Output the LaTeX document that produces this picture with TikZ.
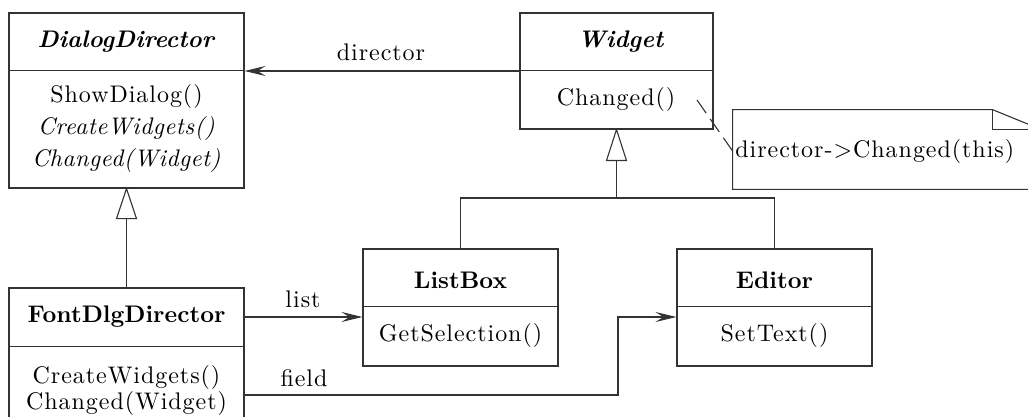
\documentclass[tikz,border=0pt]{standalone}
\usepackage{fontspec}
\setmainfont{lmroman10-regular.otf}[
  BoldFont=lmroman10-bold.otf,
  ItalicFont=lmroman10-italic.otf,
  BoldItalicFont=lmroman10-bolditalic.otf,
  UprightFeatures={LetterSpace=4},
  ItalicFeatures={LetterSpace=2}]
\usetikzlibrary{arrows.meta}
\tikzset{
  ln/.style={draw=black!80, line width=0.55pt},
  box/.style={ln, inner sep=0pt, fill=white},
  txt/.style={inner sep=0pt, font=\fontsize{12}{14}\selectfont},
  ttl/.style={txt, font=\fontsize{12}{14}\selectfont\bfseries},
  arr/.style={ln, -{Stealth[length=10.5pt,width=5pt,inset=4pt]}},
  inh/.style={ln, fill=white},
}
\begin{document}
\begin{tikzpicture}[x=0.5pt,y=-0.5pt]
\useasboundingbox (0,0) rectangle (1028,417);
\clip (0,0) rectangle (1028,417);

% class boxes
\node[box, minimum width=117.5pt, minimum height=87.5pt] (dd) at (126.5,100.5) {};
\node[box, minimum width=96.5pt, minimum height=58pt] (wd) at (616.5,71) {};
\node[box, minimum width=117.5pt, minimum height=71pt] (fd) at (126.5,359) {};
\node[box, minimum width=97.5pt, minimum height=58.5pt] (lb) at (460.5,307.5) {};
\node[box, minimum width=97.5pt, minimum height=58.5pt] (ed) at (774.5,307.5) {};

% separators
\draw[ln] (dd.north west) ++(0,58) -- ++(235,0);
\draw[ln] (wd.north west) ++(0,58) -- ++(193,0);
\draw[ln] (fd.north west) ++(0,59) -- ++(235,0);
\draw[ln] (lb.north west) ++(0,58) -- ++(195,0);
\draw[ln] (ed.north west) ++(0,58) -- ++(195,0);

% texts
\node[ttl] (ddt) at (126.5,42) {\textit{DialogDirector}};
\node[txt] (ddm1) at (126.5,97) {ShowDialog()};
\node[txt] (ddm2) at (126.5,128) {\textit{CreateWidgets()}};
\node[txt] (ddm3) at (126.5,160) {\textit{Changed(Widget)}};

\node[ttl] (wdt) at (621,42) {\textit{Widget}};
\node[txt] (wdm1) at (616,100) {Changed()};

\node[ttl] (fdt) at (126.5,317) {FontDlgDirector};
\node[txt] (fdm1) at (126.5,377) {CreateWidgets()};
\node[txt] (fdm2) at (126.5,403) {Changed(Widget)};

\node[ttl] (lbt) at (460.5,280) {ListBox};
\node[txt] (lbm1) at (460.5,335) {GetSelection()};

\node[ttl] (edt) at (774.5,280) {Editor};
\node[txt] (edm1) at (774.5,335) {SetText()};

% note
\node[minimum width=154pt, minimum height=39.5pt, inner sep=0pt] (note) at (887,149.5) {};
\draw[ln] (note.south west) -- (note.north west) -- ([xshift=-24.5pt]note.north east)
  -- ([yshift=-10pt]note.north east) -- (note.south east) -- cycle;
\draw[ln] ([xshift=-24.5pt]note.north east) -- ++(0,20) -- ([yshift=-10pt]note.north east);
\node[txt, anchor=west] (notet) at (735,151) {director->Changed(this)};
\coordinate (nstart) at (697,100);
\draw[ln, dash pattern=on 8pt off 3.5pt] (nstart) -- (note.west |- 0,151);

% director association
\draw[arr] (wd.west |- 0,71) -- (dd.east |- 0,71);
\node[txt] (dirl) at (381,52) {director};

% Widget inheritance
\coordinate (wjoin) at (616.5,198);
\draw[ln] (wd.south) ++(0,31) -- (wjoin);
\draw[ln] (lb.north) |- (wjoin) -| (ed.north);
\draw[inh] (wd.south) -- ++(-10,31) -- ++(20,0) -- cycle;

% DialogDirector inheritance
\draw[ln] (dd.south) ++(0,30) -- (fd.north);
\draw[inh] (dd.south) -- ++(-10,30) -- ++(20,0) -- cycle;

% list
\draw[arr] (fd.east |- fdt) -- (lb.west |- fdt);
\node[txt] (listl) at (303,299) {list};

% field
\coordinate (fbend) at (618,395);
\draw[arr] (fd.east |- fbend) -- (fbend) |- (ed.west |- fdt);
\node[txt] (fieldl) at (304,378) {field};
\end{tikzpicture}
\end{document}
